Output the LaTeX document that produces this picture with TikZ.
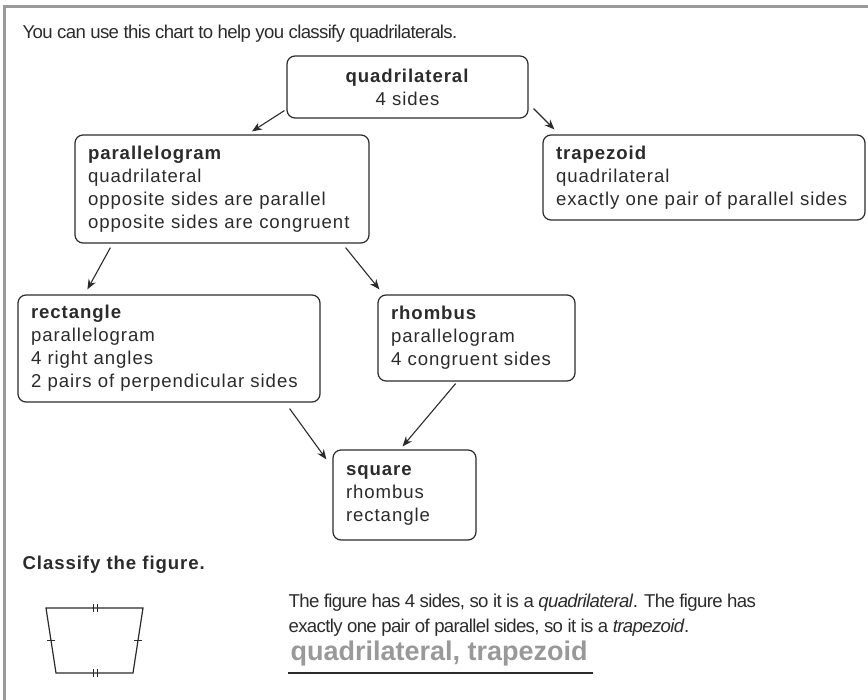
\documentclass[tikz,border=0pt]{standalone}
\usepackage{fontspec}
\setmainfont[LetterSpace=-3.5]{Liberation Sans}
\newfontfamily\boxfont[LetterSpace=5]{Liberation Sans}
\newfontfamily\answerfont{Liberation Sans}
\usetikzlibrary{arrows.meta}
\definecolor{ink}{HTML}{2B2B2B}
\definecolor{framegray}{HTML}{9A9A9A}
\definecolor{answergray}{HTML}{999999}

\begin{document}
\begin{tikzpicture}[x=1pt,y=-1pt,line width=1.2pt,>={Stealth[length=10pt,width=8pt]},
  every node/.style={text=ink,font=\fontsize{18.6}{25}\selectfont},
  box/.style={draw=ink,rounded corners=8pt,inner xsep=13pt,inner ysep=0pt,align=left,
    font=\boxfont\fontsize{18.6}{23}\selectfont},
  link/.style={->,draw=ink,line width=1.1pt}]
\useasboundingbox (0,0) rectangle (868,700);
% frame
\draw[framegray,line width=3pt] (4.5,700) -- (4.5,6.5) -- (868,6.5);
\node[anchor=base west,inner sep=0pt] (intro) at (22,38.5) {You can use this chart to help you classify quadrilaterals.};
% chart boxes
\node[box,align=center,text width=215pt,minimum height=62pt] (quad) at (407.5,87) {\textbf{quadrilateral}\\4 sides};
\node[box,text width=268pt,minimum height=108pt] (para) at (222,189) {\textbf{parallelogram}\\quadrilateral\\opposite sides are parallel\\opposite sides are congruent};
\node[box,text width=296pt,minimum height=85pt] (trap) at (704,177.5) {\textbf{trapezoid}\\quadrilateral\\exactly one pair of parallel sides};
\node[box,text width=276pt,minimum height=107pt] (rect) at (169,348.5) {\textbf{rectangle}\\parallelogram\\4 right angles\\2 pairs of perpendicular sides};
\node[box,text width=171pt,minimum height=86pt] (rhom) at (476.5,338) {\textbf{rhombus}\\parallelogram\\4 congruent sides};
\node[box,text width=117pt,minimum height=90pt] (sq) at (404.5,495) {\textbf{square}\\rhombus\\rectangle};
% arrows
\draw[link] ([xshift=-2pt,yshift=8pt]quad.south west) -- ([xshift=30pt,yshift=3pt]para.north);
\draw[link] ([xshift=5pt,yshift=10pt]quad.south east) -- ([xshift=12pt,yshift=5pt]trap.north west);
\draw[link] ([xshift=36pt,yshift=-4pt]para.south west) -- ([xshift=70pt,yshift=5pt]rect.north west);
\draw[link] ([xshift=-24pt,yshift=-4pt]para.south east) -- ([xshift=2pt,yshift=5pt]rhom.north west);
\draw[link] ([xshift=-31pt,yshift=-6pt]rect.south east) -- ([xshift=-6pt,yshift=-10pt]sq.north west);
\draw[link] ([xshift=-120pt,yshift=-2pt]rhom.south east) -- ([xshift=-74pt,yshift=3pt]sq.north east);
% exercise
\node[anchor=base west,inner sep=0pt,font=\boxfont\fontsize{18.6}{23}\selectfont\bfseries] (task) at (22,569) {Classify the figure.};
\draw[ink] (46,608) -- (143,608) -- (133,673) -- (56,673) -- cycle;
\foreach \y in {608,673}
  \foreach \x in {93.5,97}
    \draw[ink,line width=1pt] (\x,\y-4) -- (\x,\y+4);
\draw[ink,line width=1pt] (47,640.5) -- (55,640.5);
\draw[ink,line width=1pt] (134,640.5) -- (142,640.5);
\node[anchor=base west,inner sep=0pt] (why1) at (288,607) {The figure has 4 sides, so it is a \textit{quadrilateral}. The figure has};
\node[anchor=base west,inner sep=0pt] (why2) at (288,632) {exactly one pair of parallel sides, so it is a \textit{trapezoid}.};
\node[anchor=base west,inner sep=0pt,text=answergray,font=\answerfont\fontsize{27}{30}\selectfont\bfseries] (ans) at (290,660) {quadrilateral, trapezoid};
\draw[ink,line width=1.6pt] (288,673) -- (593,673);
\end{tikzpicture}
\end{document}
